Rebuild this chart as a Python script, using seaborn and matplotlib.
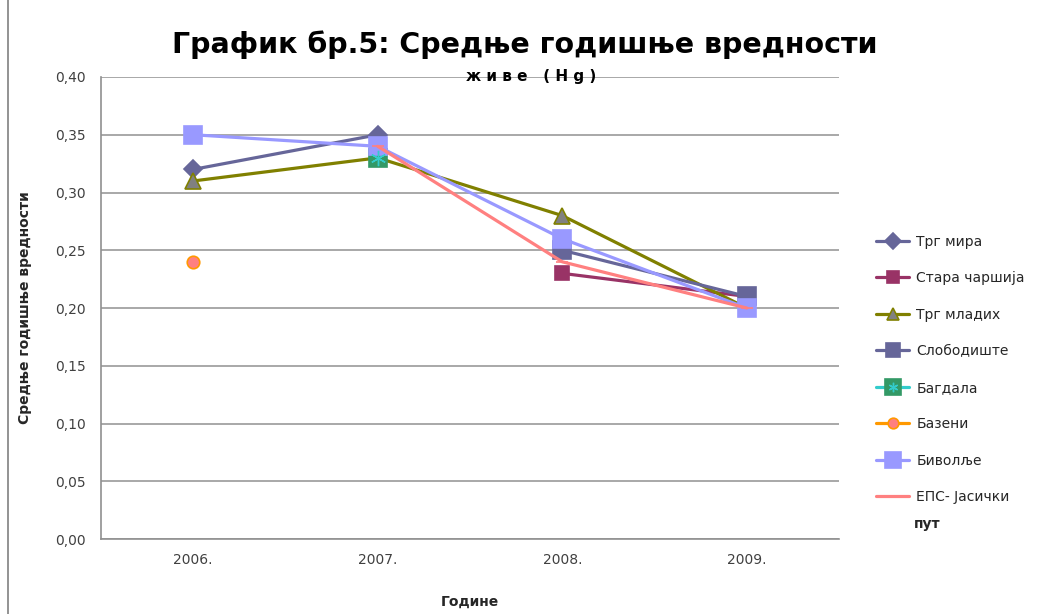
import matplotlib
matplotlib.use("Agg")
import matplotlib.pyplot as plt
from matplotlib.lines import Line2D
import seaborn as sns
import numpy as np
import pandas as pd

### data ###
years = ["2006.", "2007.", "2008.", "2009."]
trg_mira = [0.32, 0.35, np.nan, np.nan]
stara_carsija = [np.nan, np.nan, 0.23, 0.21]
trg_mladih = [0.31, 0.33, 0.28, 0.20]
slobodiste = [np.nan, np.nan, 0.25, 0.21]
bagdala = [np.nan, 0.33, np.nan, np.nan]
bazeni = [0.24, np.nan, np.nan, np.nan]
bivolje = [0.35, 0.34, 0.26, 0.20]
eps_jasicki = [np.nan, 0.34, 0.24, 0.20]

names = ["Трг мира", "Стара чаршија", "Трг младих", "Слободиште",
         "Багдала", "Базени", "Биволље", "ЕПС- Јасички"]
series = [trg_mira, stara_carsija, trg_mladih, slobodiste,
          bagdala, bazeni, bivolje, eps_jasicki]

yticks = [0.0, 0.05, 0.10, 0.15, 0.20, 0.25, 0.30, 0.35, 0.40]
ytick_labels = ["0,00", "0,05", "0,10", "0,15", "0,20", "0,25", "0,30", "0,35", "0,40"]

# style per series: line colour, marker, size, face, edge
styles = [
    dict(color="#666699", marker="D", markersize=9, markerfacecolor="#666699", markeredgecolor="#666699"),
    dict(color="#993366", marker="s", markersize=9.5, markerfacecolor="#993366", markeredgecolor="#993366"),
    dict(color="#808000", marker="^", markersize=11, markerfacecolor="#808080", markeredgecolor="#808000"),
    dict(color="#666699", marker="s", markersize=12.5, markerfacecolor="#666699", markeredgecolor="#666699"),
    dict(color="#33CCCC", marker="s", markersize=13, markerfacecolor="#339966", markeredgecolor="#339966"),
    dict(color="#FF9900", marker="o", markersize=9, markerfacecolor="#FF8080", markeredgecolor="#FF9900"),
    dict(color="#9999FF", marker="s", markersize=13.5, markerfacecolor="#9999FF", markeredgecolor="#9999FF"),
    dict(color="#FF8080", marker="_", markersize=8, markerfacecolor="#FF8080", markeredgecolor="#FF8080"),
]

sns.set_style("white")
plt.rcParams["font.family"] = ["DejaVu Sans"]

fig = plt.figure(figsize=(10.38, 6.14), dpi=100)
ax = fig.add_axes([0.0973, 0.1221, 0.7110, 0.7525])

x = np.arange(len(years))
handles = []
for name, vals, st in zip(names, series, styles):
    df = pd.DataFrame({"x": x, "y": vals}).dropna()
    sns.lineplot(data=df, x="x", y="y", ax=ax, linewidth=2.3,
                 markeredgewidth=1.2, **st)
    h = Line2D([], [], linewidth=2.3, markeredgewidth=1.2, **st)
    if name == "Багдала":
        star = Line2D([], [], linestyle="none", marker=(6, 2, 0),
                      markersize=8, markeredgecolor="#33CCCC", markeredgewidth=1)
        ax.plot(df["x"], df["y"], linestyle="none", marker=(6, 2, 0),
                markersize=11, markeredgecolor="#33CCCC", markeredgewidth=1, zorder=3)
        h = (h, star)
    handles.append(h)

### axes format ###
ax.set_xlim(-0.5, 3.5)
ax.set_ylim(0, 0.40)
ax.set_yticks(yticks)
ax.set_yticklabels(ytick_labels)
ax.set_xticks(x)
ax.set_xticklabels(years)
ax.set_xticks(np.arange(-0.5, 4.0, 1.0), minor=True)
ax.tick_params(axis="x", which="major", length=0, pad=10, labelsize=10, labelcolor="#404040")
ax.tick_params(axis="x", which="minor", length=5, color="#808080", direction="out")
ax.tick_params(axis="y", length=5, color="#808080", direction="out", labelsize=10,
               labelcolor="#404040", pad=6)
ax.grid(axis="y", color="#9a9a9a", linewidth=1.2)
ax.set_axisbelow(True)
for s in ["top", "right"]:
    ax.spines[s].set_visible(False)
for s in ["left", "bottom"]:
    ax.spines[s].set_color("#909090")
    ax.spines[s].set_linewidth(1.2)

ax.set_xlabel("Године", fontsize=10, fontweight="bold")
ax.xaxis.set_label_coords(0.50, -0.12)
ax.set_ylabel("Средње годишње вредности", fontsize=10, fontweight="bold")
ax.yaxis.set_label_coords(-0.0935, 0.50)

fig.text(0.506, 0.927, "График бр.5: Средње годишње вредности",
         ha="center", va="center", fontsize=20.5, fontweight="bold", color="black")
fig.text(0.512, 0.876, "ж и в е   ( H g )", ha="center", va="center",
         fontsize=11, fontweight="bold", color="black")

leg = fig.legend(handles, names, loc="upper left", bbox_to_anchor=(0.832, 0.638),
                 frameon=False, fontsize=10, handlelength=2.4, handletextpad=0.5,
                 labelspacing=1.62, markerscale=0.85)
fig.text(0.880, 0.147, "пут", fontsize=10, fontweight="bold", ha="left", va="center")

fig.add_artist(Line2D([0.008, 0.008], [0, 1], color="#808080", linewidth=1.2))

fig.savefig("out.png", dpi=100)
